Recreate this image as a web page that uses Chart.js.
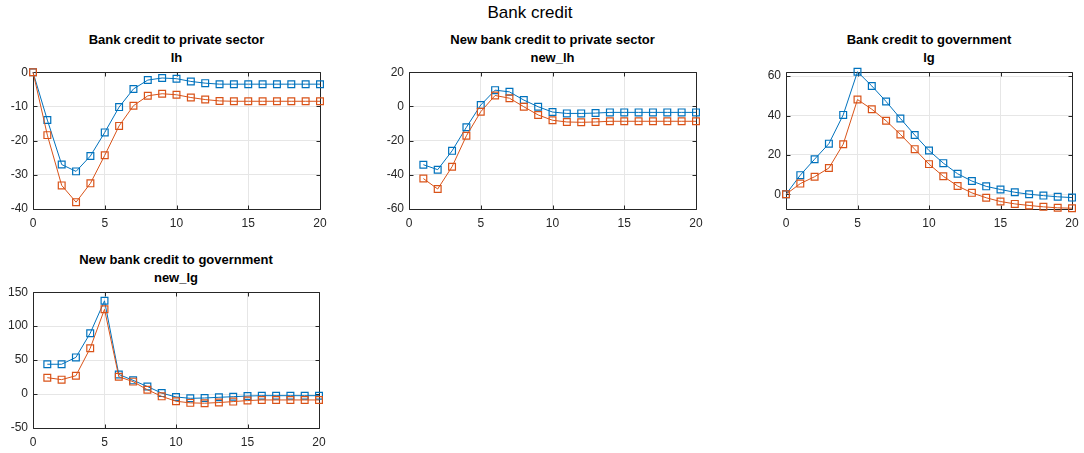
<!DOCTYPE html>
<html>
<head>
<meta charset="utf-8">
<script src="https://cdn.jsdelivr.net/npm/chart.js@4/dist/chart.umd.min.js"></script>
<style>
  html, body { margin: 0; padding: 0; background: #fff; }
  body { width: 1084px; height: 453px; position: relative; overflow: hidden;
         font-family: "Liberation Sans", Arial, sans-serif; }
  .box { position: absolute; }
  .title { position: absolute; text-align: center; color: #000; white-space: nowrap; }
  .main { font-size: 17px; top: 3px; left: 0; width: 1060px; }
  .sub { font-size: 13px; font-weight: bold; line-height: 18px; }
</style>
</head>
<body>
<div class="title main">Bank credit</div>

<script>
// Horizon (periods) for each response
const periodsFrom0 = [0,1,2,3,4,5,6,7,8,9,10,11,12,13,14,15,16,17,18,19,20];
const periodsFrom1 = [1,2,3,4,5,6,7,8,9,10,11,12,13,14,15,16,17,18,19,20];
const xTicks = [0, 5, 10, 15, 20];

// Bank credit to private sector (lh)
const lhBlue = [0,-14.0,-27.0,-29.0,-24.5,-17.6,-10.2,-4.9,-2.3,-1.7,-1.9,-2.7,-3.2,-3.5,-3.5,-3.5,-3.5,-3.5,-3.5,-3.5,-3.5];
const lhRed  = [0,-18.4,-33.1,-38.0,-32.5,-24.3,-15.7,-9.8,-6.9,-6.3,-6.6,-7.4,-8.0,-8.4,-8.5,-8.5,-8.5,-8.5,-8.5,-8.5,-8.5];

// New bank credit to private sector (new_lh)
const newLhBlue = [-34.1,-37.0,-26.0,-12.2,0.8,9.5,8.5,3.7,-0.2,-3.3,-4.1,-4.1,-3.9,-3.5,-3.5,-3.5,-3.5,-3.5,-3.5,-3.5];
const newLhRed  = [-42.2,-48.3,-35.3,-17.2,-3.1,6.4,4.8,-0.2,-5.0,-8.1,-9.1,-9.3,-9.1,-8.7,-8.7,-8.7,-8.7,-8.7,-8.7,-8.7];

// Bank credit to government (lg)
const lgBlue = [0,9.7,17.8,25.7,40.3,62.2,55.0,47.1,38.5,30.1,22.2,15.8,10.4,6.7,4.0,2.4,1.0,0.0,-0.7,-1.3,-1.7];
const lgRed  = [0,5.4,8.9,13.3,25.4,48.1,43.2,37.3,30.4,22.9,15.3,9.1,4.2,0.7,-1.8,-3.7,-4.9,-5.7,-6.4,-6.9,-7.1];

// New bank credit to government (new_lg)
const newLgBlue = [43.9,43.9,54.0,89.6,137.3,28.9,20.2,11.1,1.4,-4.3,-6.3,-5.8,-4.8,-3.9,-2.9,-2.4,-2.4,-2.4,-2.4,-2.4];
const newLgRed  = [24.1,21.2,27.0,67.5,124.8,25.5,18.3,6.3,-3.4,-10.6,-13.0,-13.5,-12.5,-11.1,-9.6,-8.7,-8.7,-8.7,-8.7,-8.7];

const panelTitles = [
  ['Bank credit to private sector', 'lh'],
  ['New bank credit to private sector', 'new_lh'],
  ['Bank credit to government', 'lg'],
  ['New bank credit to government', 'new_lg']
];

const BLUE = '#0072BD';
const RED = '#D95319';
const AXIS = '#262626';
const GRID = '#e6e6e6';

// Frame around the plot area with short inward tick marks on all four sides
const framePlugin = {
  id: 'frame',
  beforeDatasetsDraw(chart) {
    const { ctx, chartArea: a, scales } = chart;
    const L = Math.round(a.left) + 0.5, R = Math.round(a.right) + 0.5;
    const T = Math.round(a.top) + 0.5, B = Math.round(a.bottom) + 0.5;
    ctx.save();
    ctx.strokeStyle = AXIS;
    ctx.lineWidth = 1;
    ctx.beginPath();
    const tl = 4;
    scales.x.ticks.forEach(t => {
      const px = Math.round(scales.x.getPixelForValue(t.value)) + 0.5;
      ctx.moveTo(px, B); ctx.lineTo(px, B - tl);
      ctx.moveTo(px, T); ctx.lineTo(px, T + tl);
    });
    scales.y.ticks.forEach(t => {
      const py = Math.round(scales.y.getPixelForValue(t.value)) + 0.5;
      ctx.moveTo(L, py); ctx.lineTo(L + tl, py);
      ctx.moveTo(R, py); ctx.lineTo(R - tl, py);
    });
    ctx.rect(L, T, R - L, B - T);
    ctx.stroke();
    ctx.restore();
  }
};

function toPoints(xs, ys) {
  return xs.map((x, i) => ({ x: x, y: ys[i] }));
}

function series(color, pts) {
  return {
    data: pts,
    borderColor: color,
    backgroundColor: 'rgba(0,0,0,0)',
    borderWidth: 1,
    pointStyle: 'rect',
    pointRadius: 4.8,
    pointBorderWidth: 1.2,
    pointBorderColor: color,
    pointBackgroundColor: 'rgba(0,0,0,0)',
    tension: 0,
    clip: false
  };
}

// area: plot-area rectangle in page pixels
function makePanel(idx, area, xs, blue, red, yMin, yMax, yStep) {
  const padL = 42, padT = 10, padR = 14, padB = 26;
  const w = area.right - area.left, h = area.bottom - area.top;

  const t = document.createElement('div');
  t.className = 'title sub';
  t.style.left = (area.left - 60) + 'px';
  t.style.width = (w + 120) + 'px';
  t.style.top = (area.top - 39) + 'px';
  t.innerHTML = panelTitles[idx][0] + '<br>' + panelTitles[idx][1];
  document.body.appendChild(t);

  const box = document.createElement('div');
  box.className = 'box';
  box.style.left = (area.left - padL) + 'px';
  box.style.top = (area.top - padT) + 'px';
  box.style.width = (w + padL + padR) + 'px';
  box.style.height = (h + padT + padB) + 'px';
  const cv = document.createElement('canvas');
  box.appendChild(cv);
  document.body.appendChild(box);

  new Chart(cv, {
    type: 'line',
    data: {
      datasets: [
        series(RED, toPoints(xs, red)),
        series(BLUE, toPoints(xs, blue))
      ]
    },
    options: {
      responsive: true,
      maintainAspectRatio: false,
      animation: false,
      events: [],
      layout: { padding: { left: 0, top: padT, right: padR, bottom: 0 } },
      plugins: { legend: { display: false }, tooltip: { enabled: false }, title: { display: false } },
      scales: {
        x: {
          type: 'linear',
          min: 0, max: 20,
          afterBuildTicks: s => { s.ticks = xTicks.map(v => ({ value: v })); },
          afterFit: s => { s.height = padB; },
          grid: { color: GRID, drawTicks: false, lineWidth: 1 },
          border: { display: false },
          ticks: { color: AXIS, font: { size: 12, family: 'Liberation Sans' }, padding: 7, maxRotation: 0 }
        },
        y: {
          type: 'linear',
          min: yMin, max: yMax,
          afterFit: s => { s.width = padL; },
          grid: { color: GRID, drawTicks: false, lineWidth: 1 },
          border: { display: false },
          ticks: { color: AXIS, stepSize: yStep, includeBounds: false,
                   font: { size: 12, family: 'Liberation Sans' }, padding: 5 }
        }
      }
    },
    plugins: [framePlugin]
  });
}

makePanel(0, { left: 33, top: 70, right: 320, bottom: 209 }, periodsFrom0, lhBlue, lhRed, -40, 0, 10);
makePanel(1, { left: 409, top: 70, right: 696, bottom: 209 }, periodsFrom1, newLhBlue, newLhRed, -60, 20, 20);
makePanel(2, { left: 786, top: 70, right: 1072, bottom: 209 }, periodsFrom0, lgBlue, lgRed, -7.5, 62, 20);
makePanel(3, { left: 33, top: 290, right: 319, bottom: 428 }, periodsFrom1, newLgBlue, newLgRed, -50, 150, 50);
</script>
</body>
</html>
